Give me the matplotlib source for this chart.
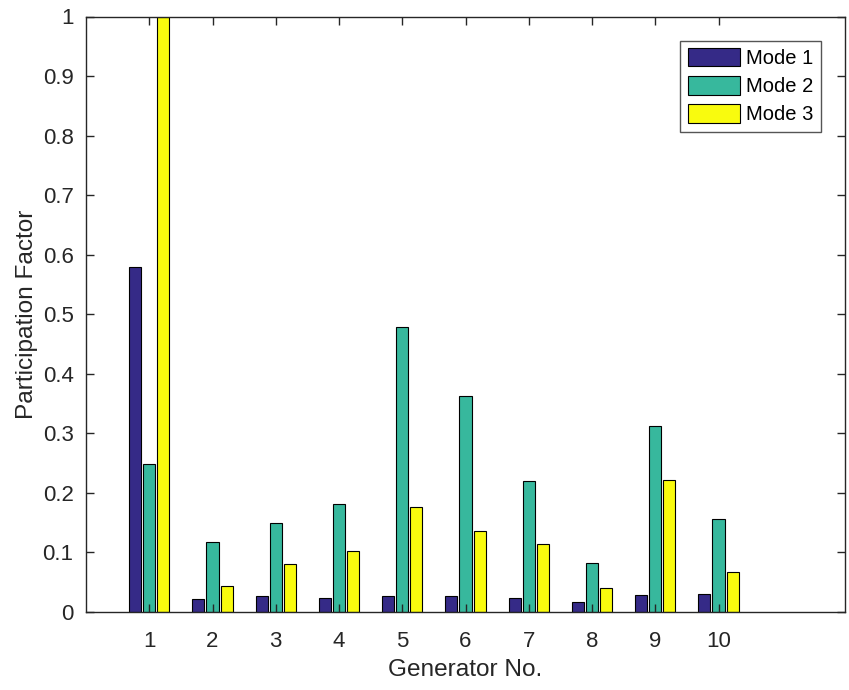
import numpy as np
import matplotlib
matplotlib.use("Agg")
import matplotlib.pyplot as plt

plt.rcParams['font.family'] = ['Liberation Sans', 'DejaVu Sans']

# data
generators = [1, 2, 3, 4, 5, 6, 7, 8, 9, 10]
mode1 = [0.579, 0.022, 0.027, 0.024, 0.027, 0.027, 0.0235, 0.0173, 0.0285, 0.030]
mode2 = [0.2485, 0.117, 0.150, 0.181, 0.479, 0.363, 0.2205, 0.0817, 0.313, 0.1556]
mode3 = [1.0, 0.043, 0.080, 0.102, 0.177, 0.1355, 0.114, 0.041, 0.221, 0.0667]
labels = ["Mode 1", "Mode 2", "Mode 3"]
colors = ["#352a87", "#37b89d", "#f9fb0e"]

txt = "#262626"

fig = plt.figure(figsize=(8.49, 6.9), dpi=100)
ax = fig.add_axes([86/849, 1 - 612/690, (845-86)/849, (612-16.5)/690])

x = np.array(generators)
width = 0.19
offset = 0.222
for i, (vals, lab, c) in enumerate(zip([mode1, mode2, mode3], labels, colors)):
    ax.bar(x + (i - 1)*offset, vals, width, color=c, edgecolor="black",
           linewidth=0.8, label=lab)

ax.set_xlim(0, 12)
ax.set_ylim(0, 1)
ax.set_xticks(generators)
ax.set_yticks(np.arange(0, 1.01, 0.1))
ax.set_yticklabels(["0", "0.1", "0.2", "0.3", "0.4", "0.5", "0.6", "0.7", "0.8", "0.9", "1"])
ax.tick_params(direction="in", length=6, width=1, top=True, right=True,
               labelsize=16, colors=txt, labelcolor=txt)
ax.tick_params(axis="x", pad=14)
ax.tick_params(axis="y", pad=9)
for s in ax.spines.values():
    s.set_color(txt)
    s.set_linewidth(1)

ax.set_xlabel("Generator No.", fontsize=17.6, color=txt, labelpad=5)
ax.set_ylabel("Participation Factor", fontsize=17.6, color=txt, labelpad=3)

leg = ax.legend(loc="upper right", bbox_to_anchor=(821/849, 1 - 40.5/690),
                bbox_transform=fig.transFigure, fontsize=14.5, fancybox=False,
                edgecolor="#555555", handlelength=2.62, handleheight=1.05,
                labelspacing=0.4, borderpad=0.36, handletextpad=0.3,
                borderaxespad=0, framealpha=1)
for t in leg.get_texts():
    t.set_color("black")
leg.get_frame().set_linewidth(1)

fig.savefig("out.png", dpi=100)
